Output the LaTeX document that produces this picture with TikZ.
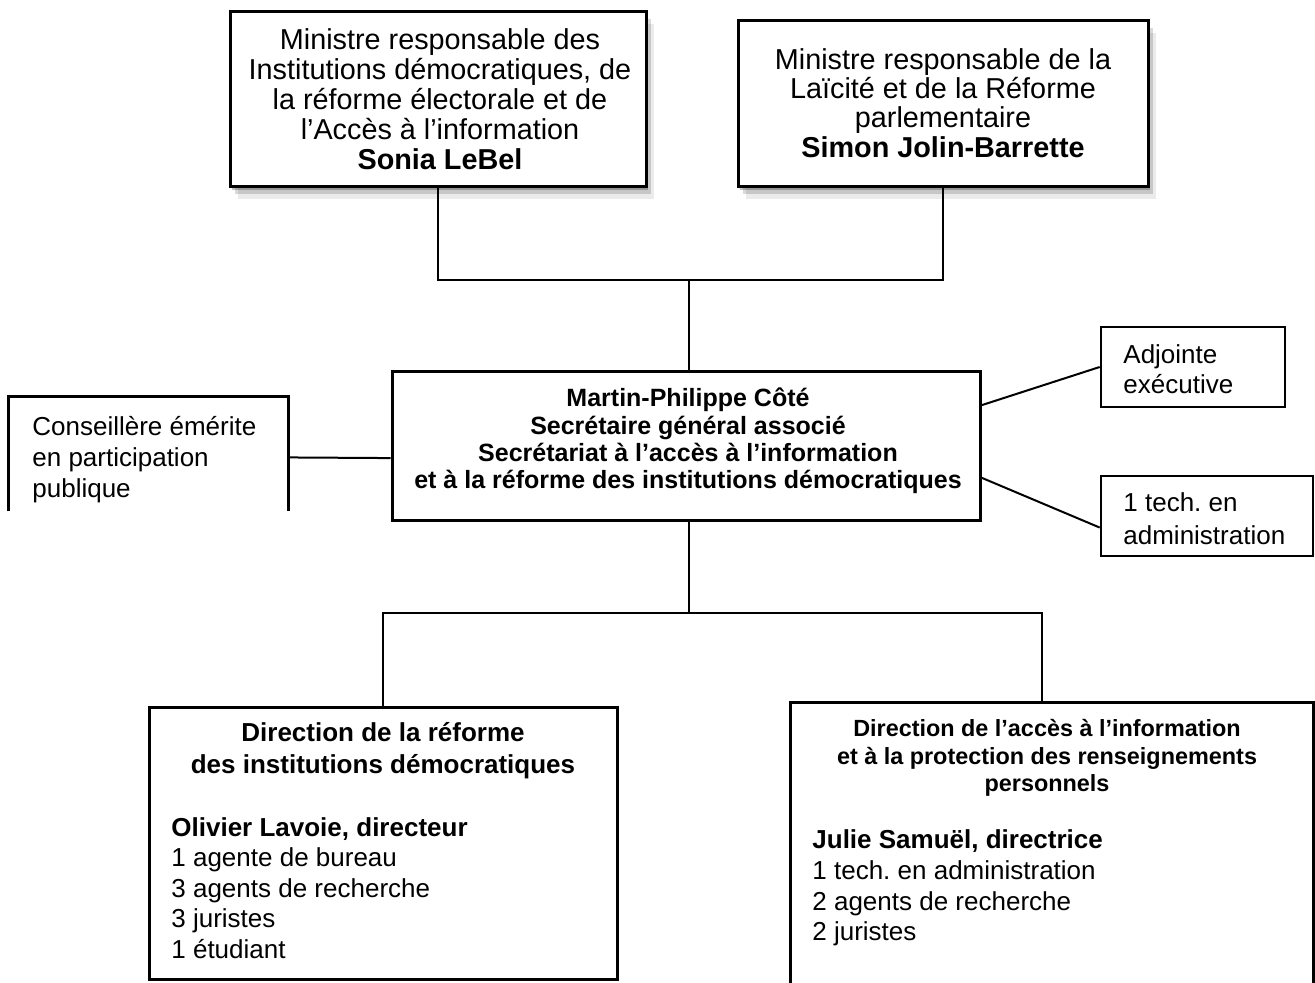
\documentclass[tikz,border=0pt]{standalone}
\usepackage{fontspec}
\setmainfont{Liberation Sans}
\usetikzlibrary{fit,calc,shadows}
\frenchspacing
\begin{document}
\begin{tikzpicture}[x=0.5pt,y=-0.5pt,
  box/.style={draw=black, line width=1.5pt, inner sep=0pt, fill=white},
  sidebox/.style={draw=black, line width=1.3pt, inner sep=0pt, fill=white},
  conn/.style={draw=black, line width=1pt},
  softshadow/.style={
    drop shadow={shadow xshift=1pt,shadow yshift=-1.5pt,opacity=.25,fill=black},
    drop shadow={shadow xshift=2.5pt,shadow yshift=-3.5pt,opacity=.15,fill=black},
    drop shadow={shadow xshift=4pt,shadow yshift=-6pt,opacity=.08,fill=black}},
  txt/.style={inner sep=0pt, align=center},
  ltxt/.style={inner sep=0pt, align=left, anchor=west},
]
\useasboundingbox (0,0) rectangle (1315,983);
\fill[white] (0,0) rectangle (1315,983);

% boxes
\node[box, softshadow, fit={(230,12)(646,187)}] (b1) {};
\node[box, softshadow, fit={(738,21)(1148,187)}] (b2) {};
\node[box, fit={(392,372)(980,520)}] (mc) {};
\node[sidebox, draw=none, fill=none, fit={(10,398)(287,510)}] (lb) {};
\draw[line width=1.3pt] (lb.south west) -- (lb.north west) -- (lb.north east) -- (lb.south east);
\node[sidebox, fit={(1101,327)(1285,407)}] (adj) {};
\node[sidebox, fit={(1101,476)(1313,556)}] (tech) {};
\node[box, fit={(149,707)(617,979)}] (dl) {};
\node[box, draw=none, fill=none, fit={(792,704)(1312,1000)}] (dr) {};
\draw[line width=1.5pt] (dr.south west) -- (dr.north west) -- (dr.north east) -- (dr.south east);

% texts
\node[txt, font=\fontsize{14.4}{15}\selectfont] (t1) at (440,99)
  {Ministre responsable des\\Institutions démocratiques, de\\la réforme électorale et de\\l’Accès à l’information\\\textbf{Sonia LeBel}};
\node[txt, font=\fontsize{14.4}{14.7}\selectfont] (t2) at (943,103)
  {Ministre responsable de la\\Laïcité et de la Réforme\\parlementaire\\\textbf{Simon Jolin-Barrette}};
\node[txt, font=\bfseries\fontsize{12.5}{13.7}\selectfont] (tc) at (688,441)
  {Martin-Philippe Côté\\Secrétaire général associé\\Secrétariat à l’accès à l’information\\et à la réforme des institutions démocratiques};
\node[ltxt, font=\fontsize{13}{15.5}\selectfont] (tl) at (32,460)
  {Conseillère émérite\\en participation\\publique};
\node[ltxt, font=\fontsize{13}{15}\selectfont] (ta) at (1123,369)
  {Adjointe\\exécutive};
\node[ltxt, font=\fontsize{13}{16.5}\selectfont] (tt) at (1123,519)
  {1 tech. en\\administration};
\node[txt, font=\bfseries\fontsize{13}{16}\selectfont] (tdl) at (383,751)
  {Direction de la réforme\\des institutions démocratiques};
\node[ltxt, font=\fontsize{13}{15.2}\selectfont] (bdl) at (171,888)
  {\textbf{Olivier Lavoie, directeur}\\1 agente de bureau\\3 agents de recherche\\3 juristes\\1 étudiant};
\node[txt, font=\bfseries\fontsize{11.7}{13.8}\selectfont] (tdr) at (1047,758)
  {Direction de l’accès à l’information\\et à la protection des renseignements\\personnels};
\node[ltxt, font=\fontsize{13}{15.4}\selectfont] (bdr) at (812,888)
  {\textbf{Julie Samuël, directrice}\\1 tech. en administration\\2 agents de recherche\\2 juristes};

% connectors
\coordinate (jt) at (689,280);
\draw[conn] (b1.south) |- (jt) -| (b2.south);
\draw[conn] (jt) -- (jt |- mc.north);
\draw[conn] ($(lb.north east)!0.53!(lb.south east)$) -- ($(mc.north west)!0.58!(mc.south west)$);
\draw[conn] ($(mc.north east)!0.23!(mc.south east)$) -- (adj.west);
\draw[conn] ($(mc.north east)!0.71!(mc.south east)$) -- ($(tech.north west)!0.64!(tech.south west)$);
\coordinate (jb) at (689,613);
\draw[conn] (jb |- mc.south) -- (jb);
\draw[conn] (dl.north) |- (jb) -| ($(dr.north)+(-10,0)$);
\end{tikzpicture}
\end{document}
